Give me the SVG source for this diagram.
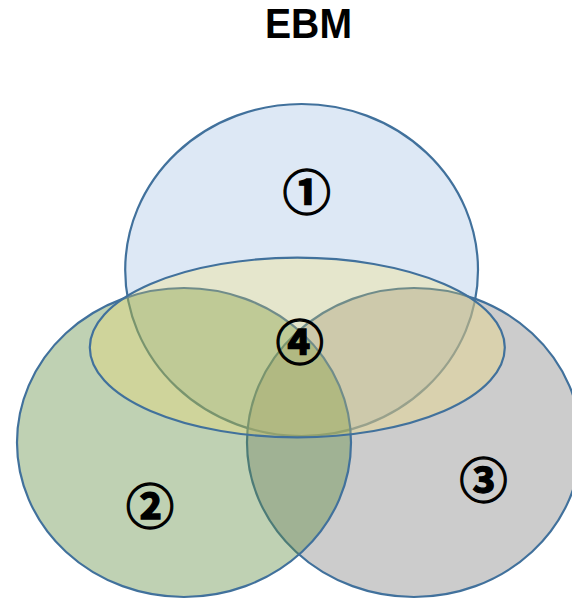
<svg xmlns="http://www.w3.org/2000/svg" width="572" height="600" viewBox="0 0 572 600">
  <style>
    .set { stroke: #41719c; stroke-width: 2.2; }
    .num { font-family: "Noto Sans CJK JP", "DejaVu Sans", sans-serif; font-size: 48px; font-weight: bold; fill: #000; stroke: #000; stroke-width: 1.3; text-anchor: middle; dominant-baseline: central; }
    .title { font-family: "Liberation Sans", Arial, sans-serif; font-size: 43px; font-weight: bold; fill: #000; }
  </style>
  <rect width="572" height="600" fill="#ffffff"/>
  <text class="title" x="265" y="37.5" textLength="87" lengthAdjust="spacingAndGlyphs">EBM</text>

  <!-- sets, drawn back to front -->
  <g id="set1">
    <ellipse class="set" cx="301.6" cy="270" rx="176.4" ry="166" fill="#dde8f5"/>
  </g>
  <g id="set3">
    <ellipse class="set" cx="414" cy="442.5" rx="167" ry="154.5" fill="#a3a3a3" fill-opacity="0.55"/>
  </g>
  <g id="set2">
    <ellipse class="set" cx="184" cy="442.5" rx="167" ry="154.5" fill="#5f8c41" fill-opacity="0.4"/>
  </g>
  <g id="set4">
    <ellipse class="set" cx="297.3" cy="347.5" rx="207.5" ry="89.8" fill="#ffdf53" fill-opacity="0.25"/>
  </g>

  <!-- region labels -->
  <g id="labels">
    <text class="num" x="306.7" y="188.5">①</text>
    <text class="num" x="150" y="503">②</text>
    <text class="num" x="483.6" y="476.7">③</text>
    <text class="num" x="299.7" y="339">④</text>
  </g>
  <g id="connectors"/>
</svg>
